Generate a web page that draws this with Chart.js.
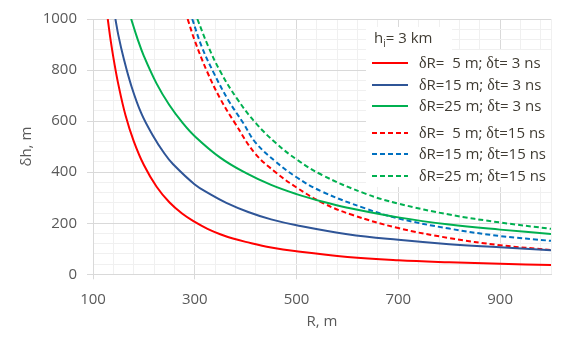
<!DOCTYPE html>
<html>
<head>
<meta charset="utf-8">
<script src="https://cdn.jsdelivr.net/npm/chart.js@4"></script>
<style>
  html, body { margin: 0; padding: 0; background: #fff; }
  canvas { display: block; }
</style>
</head>
<body>
<canvas id="chart" width="582" height="347"></canvas>
<script>
const legendTitle = 'h|i|= 3 km';
const seriesLabels = [
  'δR=  5 m; δt= 3 ns', 'δR=15 m; δt= 3 ns', 'δR=25 m; δt= 3 ns',
  'δR=  5 m; δt=15 ns', 'δR=15 m; δt=15 ns', 'δR=25 m; δt=15 ns'
];
const xTickLabels = [100, 300, 500, 700, 900];
const yTickLabels = [0, 200, 400, 600, 800, 1000];

const r5t3 = [129, 135, 141, 150, 164, 180, 200, 225, 250, 275, 300, 325, 350, 375, 400, 450, 500, 600, 700, 800, 900, 1000];
const h5t3 = [1000, 912, 838, 742, 622, 522, 428, 343, 282, 238, 205, 178, 157, 140, 127, 105, 90, 68, 55, 47, 41, 36];

const r15t3 = [144, 150, 160, 175, 195, 217, 240, 257, 300, 330, 362, 405, 450, 500, 600, 700, 800, 900, 1000];
const h15t3 = [1000, 935, 848, 740, 630, 546, 474, 432, 352, 314, 280, 244, 215, 192, 157, 135, 118, 106, 94];

const r25t3 = [175, 187, 200, 225, 250, 275, 300, 350, 400, 450, 500, 550, 600, 700, 800, 900, 1000];
const h25t3 = [1000, 925, 855, 747, 663, 596, 541, 457, 397, 350, 314, 285, 261, 223, 195, 175, 158];

const r5t15 = [286, 300, 324, 350, 379, 419, 460, 500, 553, 609, 700, 800, 900, 1000];
const h5t15 = [1000, 915, 795, 688, 592, 472, 398, 340, 278, 233, 181, 142, 114, 95];

const r15t15 = [295, 314, 337, 365, 396, 419, 458, 500, 550, 635, 700, 800, 900, 1000];
const h15t15 = [1000, 890, 790, 685, 590, 517, 443, 380, 324, 258, 219, 179, 150, 131];

const r25t15 = [305, 326, 350, 383, 420, 460, 500, 550, 635, 700, 800, 900, 1000];
const h25t15 = [1000, 895, 795, 688, 592, 513, 450, 389, 316, 277, 234, 203, 178];

const colors = ['#ff0000', '#2f5597', '#00b050', '#ff0000', '#0070c0', '#00b050'];
const gridMajor = '#d9d9d9';
const gridMinor = '#f0f0f0';
const tickText = '#595959';
const legendText = '#403c33';
const font = "'Open Sans', sans-serif";

function pts(rs, hs) {
  return rs.map((r, i) => ({ x: r, y: hs[i] }));
}

const seriesData = [
  pts(r5t3, h5t3), pts(r15t3, h15t3), pts(r25t3, h25t3),
  pts(r5t15, h5t15), pts(r15t15, h15t15), pts(r25t15, h25t15)
];

const datasets = seriesData.map((d, i) => ({
  label: seriesLabels[i],
  data: d,
  showLine: true,
  borderColor: colors[i],
  borderWidth: 2,
  borderDash: i >= 3 ? [5, 3] : [],
  pointRadius: 0,
  tension: 0.4
}));

function drawLabel(ctx, text, x, y) {
  for (const ch of text) {
    if (ch === 'δ') ctx.font = "16px 'Liberation Serif'";
    else ctx.font = '15px ' + font;
    ctx.fillText(ch, x, y);
    x += ctx.measureText(ch).width;
  }
}

const legendBox = {
  id: 'legendBox',
  afterDatasetsDraw(chart) {
    const ctx = chart.ctx;
    ctx.save();
    ctx.fillStyle = '#fff';
    ctx.fillRect(366, 27, 86, 23);
    ctx.fillRect(366, 50, 185, 137);

    ctx.textBaseline = 'middle';
    ctx.fillStyle = legendText;
    let [a, sub, b] = legendTitle.split('|');
    let x = 374;
    ctx.font = '15px ' + font;
    ctx.fillText(a, x, 39);
    x += ctx.measureText(a).width;
    ctx.font = '10px ' + font;
    ctx.fillText(sub, x, 44);
    x += ctx.measureText(sub).width;
    ctx.font = '15px ' + font;
    ctx.fillText(b, x, 39);

    const rows = [63, 85, 106, 133, 154, 176];
    chart.data.datasets.forEach((ds, i) => {
      const y = rows[i];
      ctx.strokeStyle = ds.borderColor;
      ctx.lineWidth = 2;
      ctx.setLineDash(ds.borderDash);
      ctx.beginPath();
      ctx.moveTo(372, y);
      ctx.lineTo(408, y);
      ctx.stroke();
      ctx.setLineDash([]);
      ctx.fillStyle = legendText;
      drawLabel(ctx, ds.label, 419, y + 1);
    });
    ctx.restore();
  }
};

const isMajorX = v => xTickLabels.includes(Math.round(v));
const isMajorY = v => yTickLabels.includes(Math.round(v));

new Chart(document.getElementById('chart'), {
  type: 'scatter',
  data: { datasets },
  options: {
    responsive: false,
    animation: false,
    devicePixelRatio: 1,
    layout: { padding: { left: 0, top: 16, right: 31, bottom: 0 } },
    plugins: { legend: { display: false }, tooltip: { enabled: false } },
    scales: {
      x: {
        type: 'linear',
        min: 100,
        max: 1000,
        afterBuildTicks: s => {
          const t = [];
          for (let v = 100; v < 1000; v += 40) t.push({ value: v });
          t.push({ value: 1000 });
          s.ticks = t;
        },
        afterFit: s => { s.height = 72.7; },
        ticks: {
          autoSkip: false,
          maxRotation: 0,
          padding: 11,
          color: tickText,
          font: { family: font, size: 15 },
          callback: v => isMajorX(v) ? String(Math.round(v)) : ''
        },
        grid: {
          color: c => isMajorX(c.tick.value) ? gridMajor : gridMinor,
          tickColor: c => isMajorX(c.tick.value) ? gridMajor : 'rgba(0,0,0,0)',
          tickLength: 5
        },
        border: { color: gridMajor },
        title: {
          display: true,
          text: 'R, m',
          color: tickText,
          font: { family: font, size: 15 },
          padding: { top: 0, bottom: 16 }
        }
      },
      y: {
        min: 0,
        max: 1000,
        afterBuildTicks: s => {
          const t = [];
          for (let v = 0; v <= 1000; v += 40) t.push({ value: v });
          s.ticks = t;
        },
        afterFit: s => { s.width = 93; },
        ticks: {
          autoSkip: false,
          padding: 10,
          color: tickText,
          font: { family: font, size: 15 },
          callback: v => isMajorY(v) ? String(Math.round(v)) : ''
        },
        grid: {
          color: c => isMajorY(c.tick.value) ? gridMajor : gridMinor,
          tickColor: c => isMajorY(c.tick.value) ? gridMajor : 'rgba(0,0,0,0)',
          tickLength: 6
        },
        border: { color: gridMajor },
        title: {
          display: true,
          text: 'δh, m',
          color: tickText,
          font: { family: font, size: 15 },
          padding: { top: 18, bottom: 0 }
        }
      }
    }
  },
  plugins: [legendBox]
});
</script>
</body>
</html>
